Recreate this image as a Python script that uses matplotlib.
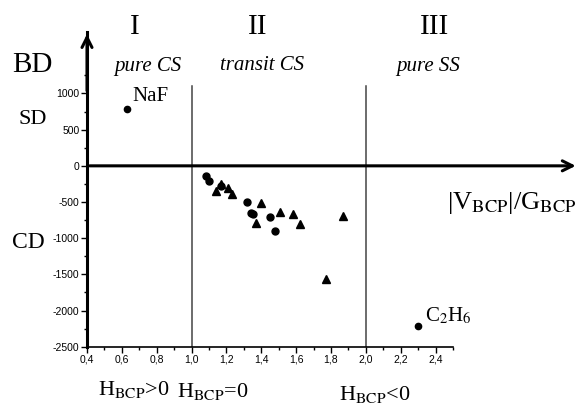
import numpy as np
import matplotlib
matplotlib.use("Agg")
import matplotlib.pyplot as plt
from matplotlib.ticker import MultipleLocator, FuncFormatter

# |V_BCP|/G_BCP vs bond degree
circle_x = [1.08, 1.10, 1.17, 1.32, 1.34, 1.35, 1.45, 1.48]
circle_y = [-135, -215, -275, -500, -650, -670, -705, -900]
triangle_x = [1.14, 1.17, 1.21, 1.23, 1.40, 1.37, 1.51, 1.58, 1.62, 1.87, 1.77]
triangle_y = [-345, -245, -310, -390, -520, -785, -635, -670, -805, -695, -1565]
naf_x, naf_y = 0.63, 785
c2h6_x, c2h6_y = 2.30, -2215

region_labels = ["I", "II", "III"]
region_names = ["pure CS", "transit CS", "pure SS"]
boundaries = [1.0, 2.0]

serif = ["Liberation Serif", "DejaVu Serif"]
tick_font = ["Liberation Sans Narrow", "Liberation Sans", "DejaVu Sans"]

plt.rcParams["mathtext.fontset"] = "stix"
plt.rcParams["axes.unicode_minus"] = False

W, H = 581, 407
fig = plt.figure(figsize=(W / 100, H / 100), dpi=100)


def fx(px):
    return px / W


def fy(py):
    return 1 - py / H


ax = fig.add_axes([fx(87), fy(346.7), (453 - 87) / W, (346.7 - 32) / H])
ax.set_xlim(0.4, 2.5)
ax.set_ylim(-2500, 1850)

for side in ["top", "right"]:
    ax.spines[side].set_visible(False)
ax.spines["left"].set_linewidth(2.2)
ax.spines["bottom"].set_linewidth(1.2)

ax.xaxis.set_major_locator(MultipleLocator(0.2))
ax.xaxis.set_minor_locator(MultipleLocator(0.1))
ax.set_yticks(np.arange(-2500, 1001, 500))
ax.set_yticks(np.arange(-2250, 1300, 250), minor=True)
ax.xaxis.set_major_formatter(FuncFormatter(lambda v, p: f"{v:.1f}".replace(".", ",")))
ax.tick_params(which="major", length=4, width=1, pad=1.5, labelsize=7.5,
               labelfontfamily=tick_font)
ax.tick_params(which="minor", length=2.5, width=1)

# region boundaries and the zero line with arrows
for b in boundaries:
    ax.plot([b, b], [-2500, 1110], color="#444444", lw=1.1)
ax.annotate("", xy=(3.22, 0), xytext=(0.4, 0), annotation_clip=False,
            arrowprops=dict(arrowstyle="->", lw=2.2, color="black",
                            mutation_scale=18))
ax.annotate("", xy=(0.4, 1860), xytext=(0.4, 1000), annotation_clip=False,
            arrowprops=dict(arrowstyle="->", lw=2.2, color="black",
                            mutation_scale=18))

ax.plot(circle_x, circle_y, "o", color="black", ms=5, clip_on=False)
ax.plot(triangle_x, triangle_y, "^", color="black", ms=6, clip_on=False)
ax.plot([naf_x, c2h6_x], [naf_y, c2h6_y], "o", color="black", ms=4.5, clip_on=False)

ax.annotate("NaF", (naf_x, naf_y), xytext=(4, 2), textcoords="offset points",
            fontsize=15, family=serif, va="bottom")
ax.annotate(r"C$_2$H$_6$", (c2h6_x, c2h6_y), xytext=(5, 0), textcoords="offset points",
            fontsize=15, family=serif, va="bottom")

# labels around the plot
for lab, px in zip(region_labels, [135, 258, 435]):
    fig.text(fx(px), fy(27), lab, fontsize=21, family=serif, ha="center", va="center")
for name, px in zip(region_names, [148, 262, 428]):
    fig.text(fx(px), fy(66), name, fontsize=15, family=serif, style="italic",
             ha="center", va="center")

fig.text(fx(32), fy(65), "BD", fontsize=21, family=serif, ha="center", va="center")
fig.text(fx(33), fy(120), "SD", fontsize=16, family=serif, ha="center", va="center")
fig.text(fx(28), fy(243), "CD", fontsize=17, family=serif, ha="center", va="center")
fig.text(fx(577), fy(209), r"|V$_{\mathrm{BCP}}$|/G$_{\mathrm{BCP}}$", fontsize=19,
         family=serif, ha="right", va="baseline")

fig.text(fx(134), fy(395), r"H$_{\mathrm{BCP}}$>0", fontsize=16, family=serif,
         ha="center", va="baseline")
fig.text(fx(213), fy(397), r"H$_{\mathrm{BCP}}$=0", fontsize=16, family=serif,
         ha="center", va="baseline")
fig.text(fx(375), fy(400), r"H$_{\mathrm{BCP}}$<0", fontsize=16, family=serif,
         ha="center", va="baseline")

fig.savefig("out.png", dpi=100)
